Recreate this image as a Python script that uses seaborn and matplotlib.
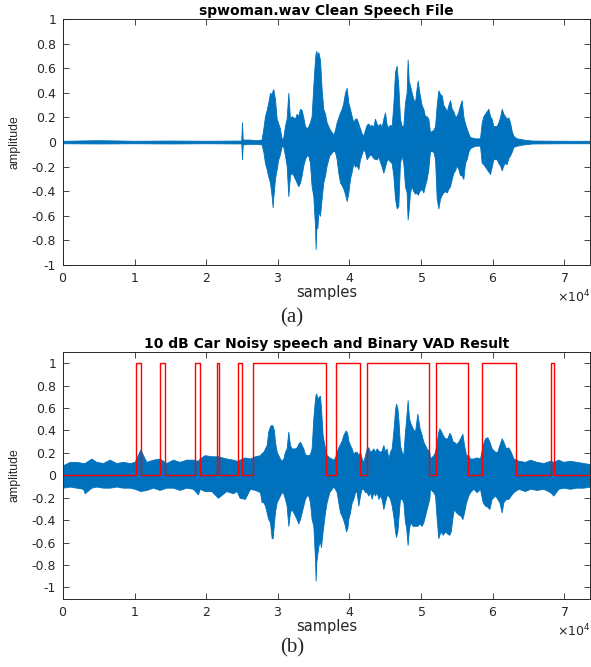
import numpy as np
import matplotlib
matplotlib.use('Agg')
import matplotlib.pyplot as plt
import seaborn as sns
from matplotlib.ticker import ScalarFormatter, MultipleLocator

# envelope of the clean speech waveform (sample index, upper, lower)
clean_x = [0, 5000, 10000, 15000, 20000, 24900, 25000, 25100, 26000, 27000,
           27740, 27980, 28210, 28440, 28670, 28910, 29140, 29280, 29370, 29600,
           29840, 30070, 30300, 30540, 30770, 31000, 31230, 31470, 31700, 31930,
           32160, 32400, 32630, 32860, 33100, 33330, 33560, 33790, 34030, 34260,
           34490, 34720, 34960, 35190, 35280, 35380, 35520, 35660, 35890, 36120,
           36350, 36590, 36820, 37190, 37760, 37990, 38220, 38450, 38690, 38920,
           39150, 39380, 39620, 39850, 40080, 40320, 40550, 40780, 41010, 41250,
           41480, 41710, 41940, 42180, 42410, 42640, 42880, 43110, 43340, 43570,
           43810, 44040, 44270, 44500, 44740, 44970, 45200, 45440, 45670, 45900,
           46130, 46370, 46600, 46830, 47060, 47300, 47530, 47760, 47990, 48130,
           48280, 48460, 48700, 48930, 49160, 49390, 49530, 49770, 50090, 50320,
           50560, 50790, 51020, 51260, 51730, 51960, 52190, 52420, 52660, 52890,
           53120, 53350, 53590, 53820, 54050, 54290, 54520, 54750, 54980, 55220,
           55450, 55680, 55910, 56150, 56380, 56610, 56850, 57540, 58240, 58480,
           58710, 58940, 59170, 59410, 59640, 59870, 60100, 60570, 60800, 61030,
           61270, 61500, 61730, 61960, 62200, 62430, 62660, 62900, 63360, 64290,
           65500, 70000, 73600]
clean_hi = [.01, .015, .01, .012, .01, .012, .16, .02, .02, .015,
            .02, .11, .21, .26, .32, .40, .39, .42, .43, .35,
            .19, .15, .11, .02, .04, .13, .19, .40, .19, .21,
            .20, .19, .23, .21, .27, .26, .20, .13, .11, .13,
            .16, .21, .46, .67, .72, .74, .70, .73, .67, .43,
            .27, .23, .16, .11, .06, .10, .16, .20, .24, .27,
            .32, .40, .44, .32, .27, .21, .16, .19, .19, .15,
            .11, .07, .05, .10, .14, .15, .13, .14, .12, .19,
            .15, .13, .15, .12, .19, .24, .14, .12, .14, .13,
            .30, .57, .62, .46, .19, .13, .13, .32, .40, .67,
            .50, .46, .40, .35, .32, .44, .50, .40, .30, .27,
            .21, .21, .19, .08, .10, .13, .30, .42, .39, .38,
            .30, .28, .25, .30, .34, .27, .25, .21, .21, .25,
            .30, .34, .21, .15, .11, .07, .04, .03, .03, .16,
            .21, .23, .25, .27, .21, .19, .13, .13, .16, .20,
            .27, .23, .21, .19, .20, .16, .09, .05, .03, .02,
            .012, .01, .01]
clean_lo = [-.01, -.012, -.01, -.012, -.01, -.012, -.14, -.02, -.015, -.015,
            -.02, -.08, -.17, -.22, -.28, -.33, -.44, -.53, -.45, -.30,
            -.22, -.14, -.10, -.03, -.04, -.11, -.19, -.44, -.27, -.25,
            -.27, -.30, -.33, -.36, -.33, -.27, -.19, -.14, -.11, -.11,
            -.17, -.36, -.44, -.68, -.87, -.70, -.70, -.57, -.60, -.46,
            -.33, -.27, -.19, -.11, -.07, -.08, -.14, -.25, -.33, -.35,
            -.38, -.42, -.48, -.41, -.30, -.24, -.17, -.20, -.19, -.22,
            -.14, -.10, -.06, -.08, -.14, -.12, -.10, -.11, -.13, -.14,
            -.14, -.12, -.16, -.20, -.25, -.20, -.15, -.14, -.16, -.17,
            -.27, -.46, -.54, -.52, -.17, -.11, -.17, -.36, -.41, -.63,
            -.55, -.41, -.36, -.40, -.42, -.41, -.43, -.40, -.38, -.41,
            -.35, -.30, -.22, -.07, -.08, -.14, -.46, -.54, -.46, -.43,
            -.41, -.40, -.41, -.38, -.36, -.30, -.25, -.23, -.19, -.22,
            -.27, -.27, -.30, -.17, -.14, -.08, -.05, -.03, -.03, -.17,
            -.18, -.20, -.22, -.24, -.26, -.20, -.14, -.14, -.17, -.19,
            -.23, -.19, -.17, -.18, -.13, -.11, -.08, -.04, -.03, -.02,
            -.012, -.01, -.01]

# envelope of the 10 dB car-noise speech
noisy_x = [0, 930, 1860, 2790, 3030, 3960, 4660, 5590, 6520, 7450,
           8380, 9310, 10010, 10800, 11640, 12570, 13500, 14430, 15360, 16290,
           17220, 18150, 18850, 19090, 19780, 20710, 21650, 22810, 23740, 24250,
           24670, 25410, 26110, 26810, 27510, 27740, 27980, 28210, 28440, 28670,
           28910, 29140, 29280, 29470, 29600, 29840, 30070, 30300, 30540, 30770,
           31000, 31230, 31470, 31700, 31930, 32160, 32400, 32630, 32860, 33100,
           33330, 33560, 33790, 34030, 34260, 34490, 34720, 34960, 35190, 35280,
           35380, 35520, 35700, 35890, 36030, 36260, 36590, 36820, 37190, 37760,
           37990, 38220, 38450, 38690, 38920, 39150, 39380, 39520, 39710, 39850,
           40080, 40320, 40550, 40780, 41010, 41250, 41480, 41710, 41940, 42180,
           42410, 42640, 42880, 43110, 43340, 43570, 43810, 44040, 44270, 44500,
           44740, 44970, 45200, 45440, 45670, 45900, 46130, 46370, 46510, 46700,
           46830, 47060, 47300, 47530, 47760, 47900, 48130, 48320, 48550, 48830,
           49160, 49490, 49770, 50090, 50320, 50560, 50790, 51160, 51260, 51730,
           51960, 52190, 52420, 52560, 52750, 53030, 53350, 53680, 53960, 54150,
           54430, 54610, 54890, 55220, 55540, 55780, 56010, 56290, 56610, 56850,
           57310, 57770, 58240, 58610, 58940, 59270, 59550, 59870, 60340, 60660,
           60940, 61270, 61500, 61870, 62200, 62530, 62900, 63600, 64530, 65230,
           66160, 67090, 68020, 68480, 69180, 69880, 70810, 71740, 72670, 73600]
noisy_hi = [.09, .12, .12, .11, .11, .15, .12, .11, .14, .11,
            .12, .11, .12, .23, .12, .14, .15, .11, .14, .12,
            .14, .14, .13, .15, .18, .17, .17, .15, .14, .13,
            .14, .16, .15, .17, .18, .20, .21, .24, .27, .39,
            .44, .45, .44, .40, .30, .21, .18, .15, .13, .15,
            .21, .24, .39, .27, .24, .24, .24, .25, .28, .30,
            .27, .24, .19, .18, .18, .19, .24, .51, .68, .72,
            .73, .68, .70, .71, .60, .36, .24, .18, .16, .14,
            .16, .21, .25, .28, .31, .36, .39, .40, .37, .31,
            .27, .24, .19, .21, .21, .18, .21, .15, .12, .18,
            .24, .25, .21, .22, .24, .21, .24, .22, .21, .22,
            .27, .21, .24, .15, .21, .24, .39, .58, .64, .60,
            .51, .27, .21, .18, .39, .48, .67, .51, .46, .42,
            .39, .55, .43, .36, .30, .27, .24, .21, .15, .18,
            .21, .30, .39, .42, .40, .36, .33, .33, .38, .36,
            .30, .30, .28, .30, .34, .37, .27, .18, .18, .15,
            .15, .16, .15, .27, .33, .34, .30, .24, .21, .21,
            .27, .33, .30, .24, .25, .21, .15, .13, .12, .14,
            .12, .11, .13, .12, .14, .12, .13, .12, .11, .10]
noisy_lo = [-.11, -.10, -.11, -.12, -.16, -.11, -.10, -.11, -.11, -.10,
            -.11, -.11, -.12, -.14, -.13, -.11, -.13, -.11, -.11, -.13,
            -.11, -.12, -.17, -.12, -.14, -.14, -.20, -.14, -.16, -.14,
            -.20, -.21, -.12, -.13, -.15, -.24, -.24, -.27, -.33, -.39,
            -.42, -.56, -.56, -.42, -.33, -.24, -.21, -.18, -.15, -.16,
            -.21, -.27, -.45, -.33, -.30, -.33, -.36, -.39, -.43, -.39,
            -.33, -.27, -.21, -.18, -.18, -.24, -.39, -.45, -.74, -.94,
            -.77, -.70, -.62, -.59, -.64, -.50, -.33, -.24, -.15, -.10,
            -.12, -.15, -.24, -.33, -.36, -.40, -.45, -.50, -.47, -.39,
            -.33, -.24, -.21, -.15, -.15, -.27, -.18, -.12, -.12, -.15,
            -.15, -.18, -.15, -.21, -.15, -.18, -.15, -.21, -.18, -.21,
            -.30, -.24, -.18, -.18, -.21, -.27, -.36, -.50, -.55, -.50,
            -.39, -.21, -.21, -.24, -.42, -.45, -.62, -.47, -.42, -.45,
            -.45, -.45, -.43, -.45, -.42, -.36, -.30, -.21, -.12, -.15,
            -.18, -.39, -.56, -.53, -.50, -.53, -.50, -.52, -.53, -.50,
            -.36, -.30, -.33, -.35, -.36, -.39, -.33, -.24, -.18, -.15,
            -.12, -.15, -.12, -.24, -.27, -.28, -.30, -.21, -.18, -.21,
            -.24, -.33, -.24, -.21, -.21, -.18, -.15, -.12, -.14, -.12,
            -.13, -.12, -.15, -.18, -.12, -.11, -.12, -.11, -.11, -.10]

# binary VAD decision (step changes)
vad_x = [0, 10240, 10940, 13600, 14200, 18500, 19100, 21500, 21800, 24490,
         25050, 26580, 36700, 38080, 41480, 42410, 51160, 52090, 56610, 58470,
         63220, 68110, 68570, 73600]
vad_y = [0, 1, 0, 1, 0, 1, 0, 1, 0, 1,
         0, 1, 0, 1, 0, 1, 0, 1, 0, 1,
         0, 1, 0, 0]

ytick_vals = [-1, -0.8, -0.6, -0.4, -0.2, 0, 0.2, 0.4, 0.6, 0.8, 1]

blue = '#0072BD'
dark = '#262626'

sns.set_style('ticks')
plt.rcParams['font.family'] = ['DejaVu Sans']

fig = plt.figure(figsize=(5.91, 6.67), dpi=100)
ax1 = fig.add_axes([0.1066, 0.6027, 0.8917, 0.3688])
ax2 = fig.add_axes([0.1066, 0.1024, 0.8917, 0.3699])


def style_axis(ax, title, ylim):
    ax.set_xlim(0, 73600)
    ax.set_ylim(*ylim)
    ax.xaxis.set_major_locator(MultipleLocator(10000))
    fmt = ScalarFormatter(useMathText=True)
    fmt.set_powerlimits((0, 0))
    ax.xaxis.set_major_formatter(fmt)
    ax.xaxis.get_offset_text().set_fontsize(9)
    ax.xaxis.get_offset_text().set_color(dark)
    ax.set_yticks(ytick_vals)
    ax.set_yticklabels(['%g' % v for v in ytick_vals])
    ax.tick_params(direction='in', length=4, width=0.6, top=True, right=True,
                   labelsize=9, colors=dark, pad=5)
    for s in ax.spines.values():
        s.set_visible(True)
        s.set_color(dark)
        s.set_linewidth(0.7)
    ax.set_title(title, fontsize=10, fontweight='bold', pad=3, color='black')
    ax.set_xlabel('samples', fontsize=10.5, color=dark, labelpad=0)
    ax.set_ylabel('amplitude', fontsize=8.8, color=dark,
                  family=['Liberation Sans', 'DejaVu Sans'])
    ax.yaxis.set_label_coords(-0.08, 0.5)


ax1.fill_between(clean_x, clean_lo, clean_hi, color=blue, lw=0.6)
style_axis(ax1, 'spwoman.wav Clean Speech File', (-1, 1))

ax2.fill_between(noisy_x, noisy_lo, noisy_hi, color=blue, lw=0.6)
sns.lineplot(x=vad_x, y=vad_y, drawstyle='steps-post', estimator=None,
             color='red', lw=1, ax=ax2)
style_axis(ax2, '10 dB Car Noisy speech and Binary VAD Result', (-1.1, 1.1))

fig.text(0.493, 0.523, '(a)', fontsize=15, ha='center', va='center',
         family=['Liberation Serif', 'DejaVu Serif'])
fig.text(0.495, 0.0285, '(b)', fontsize=15, ha='center', va='center',
         family=['Liberation Serif', 'DejaVu Serif'])

plt.savefig('out.png', dpi=100)
